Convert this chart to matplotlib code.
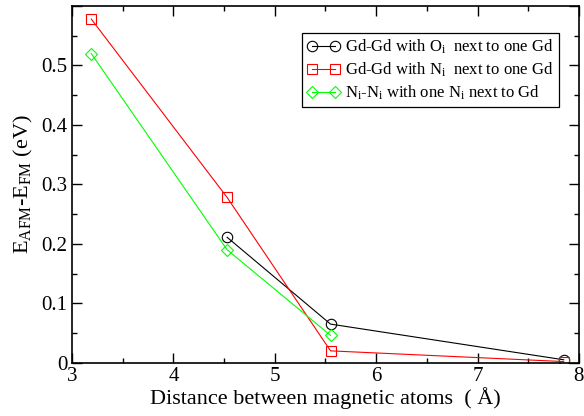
import matplotlib
matplotlib.use("Agg")
import matplotlib.pyplot as plt
from matplotlib.ticker import MultipleLocator, FuncFormatter

plt.rcParams['font.family'] = ['Liberation Serif', 'DejaVu Serif']
plt.rcParams['mathtext.fontset'] = 'custom'
plt.rcParams['mathtext.rm'] = 'Liberation Serif'
plt.rcParams['mathtext.it'] = 'Liberation Serif:italic'

# data
x_oi = [4.53, 5.55, 7.85]
y_oi = [0.211, 0.065, 0.005]

x_ni = [3.19, 4.53, 5.55, 7.85]
y_ni = [0.578, 0.278, 0.020, 0.002]

x_nn = [3.19, 4.53, 5.55]
y_nn = [0.520, 0.190, 0.046]

labels = [r'Gd-Gd with O$_\mathrm{i}$  next to one Gd',
          r'Gd-Gd with N$_\mathrm{i}$  next to one Gd',
          r'N$_\mathrm{i}$-N$_\mathrm{i}$ with one N$_\mathrm{i}$ next to Gd']

fig = plt.figure(figsize=(5.84, 4.16), dpi=100)
ax = fig.add_axes([0.1233, 0.128, 0.868, 0.8576])

ax.plot(x_oi, y_oi, color='black', lw=0.8, marker='o', ms=7.5, mfc='none',
        mew=0.8, label=labels[0])
ax.plot(x_ni, y_ni, color='red', lw=0.8, marker='s', ms=7, mfc='none',
        mew=0.8, label=labels[1])
ax.plot(x_nn, y_nn, color='#00ff00', lw=0.8, marker='D', ms=6.5, mfc='none',
        mew=0.8, label=labels[2])

ax.set_xlim(3, 8)
ax.set_ylim(0, 0.6)
ax.xaxis.set_major_locator(MultipleLocator(1))
ax.xaxis.set_minor_locator(MultipleLocator(0.5))
ax.yaxis.set_major_locator(MultipleLocator(0.1))
ax.yaxis.set_minor_locator(MultipleLocator(0.05))
ax.yaxis.set_major_formatter(FuncFormatter(lambda v, p: f'{v:g}' if v < 0.55 else ''))
ax.xaxis.set_major_formatter(FuncFormatter(lambda v, p: f'{v:g}'))
ax.tick_params(which='both', direction='in', top=True, right=True, labelsize=15)
ax.tick_params(which='major', length=7, width=1)
ax.tick_params(which='minor', length=3.5, width=1)
ax.tick_params(axis='x', pad=3)
for s in ax.spines.values():
    s.set_linewidth(1.2)

ax.set_xlabel('Distance between magnetic atoms  ( Å)', fontsize=16, labelpad=1)
ax.set_ylabel(r'E$_\mathrm{AFM}$-E$_\mathrm{FM}$ (eV)', fontsize=16, labelpad=4)

leg = ax.legend(loc='upper right', bbox_to_anchor=(0.96, 0.925), fontsize=12,
                numpoints=2, handlelength=2.0, handletextpad=0.3,
                labelspacing=0.28, borderpad=0.3, fancybox=False,
                framealpha=1, borderaxespad=0)
leg.get_frame().set_edgecolor('black')
leg.get_frame().set_linewidth(0.9)

fig.savefig('out.png', dpi=100)
